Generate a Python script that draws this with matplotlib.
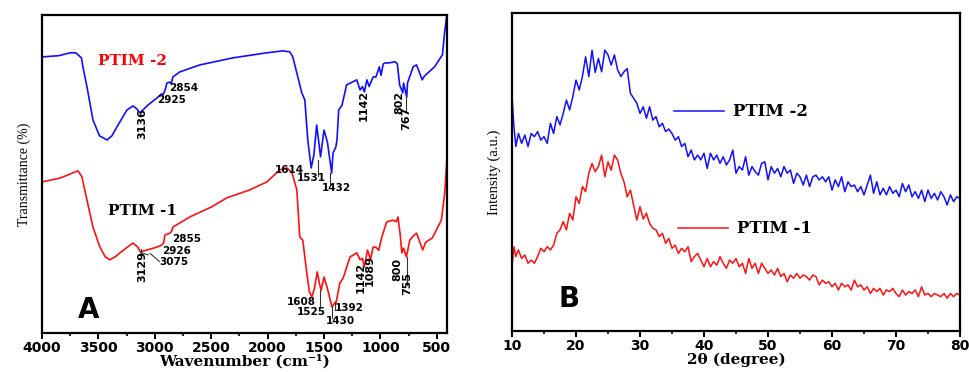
import matplotlib
matplotlib.use("Agg")
import matplotlib.pyplot as plt
from matplotlib.ticker import MultipleLocator

plt.rcParams["font.family"] = "DejaVu Sans"
plt.rcParams["font.weight"] = "bold"

# ---- FTIR data (wavenumber cm-1, transmittance a.u.) ----
ftir2_wn = [4000, 3850, 3750, 3700, 3650, 3637, 3601, 3548, 3490, 3424, 3380, 3336, 3247, 3194,
            3160, 3132, 3060, 2981, 2940, 2925, 2905, 2893, 2866, 2854, 2840, 2778, 2600, 2308,
            2007, 1865, 1803, 1777, 1732, 1697, 1670, 1644, 1614, 1590, 1565, 1531, 1500, 1470,
            1432, 1420, 1395, 1385, 1370, 1340, 1300, 1250, 1210, 1180, 1160, 1142, 1120, 1100,
            1065, 1040, 1010, 995, 975, 960, 930, 870, 850, 830, 802, 795, 767, 760, 710, 680,
            650, 630, 610, 560, 520, 450, 430, 410]
ftir2_t = [86.8, 87.2, 88.1, 88.1, 86.5, 83.7, 77.4, 67.0, 62.0, 60.7, 62.0, 64.8, 70.1, 71.4,
           70.5, 69.2, 71.7, 73.9, 75.2, 74.9, 76.8, 78.6, 78.9, 78.3, 80.5, 82.1, 84.3, 86.5,
           88.1, 88.7, 88.4, 86.8, 80.5, 75.5, 73.3, 60.7, 51.9, 56.0, 65.4, 55.4, 63.8, 60.0,
           50.3, 56.6, 58.5, 60.7, 70.1, 71.7, 78.0, 78.9, 79.6, 76.4, 77.5, 75.8, 79.6, 77.5,
           80.5, 80.5, 83.7, 81.0, 84.6, 84.9, 84.9, 85.3, 84.6, 78.0, 75.5, 78.6, 74.2, 78.6,
           83.7, 84.3, 81.5, 79.6, 80.8, 82.4, 83.7, 87.5, 94.9, 100.5]

ftir1_wn = [4000, 3840, 3750, 3681, 3646, 3601, 3548, 3486, 3440, 3398, 3350, 3309, 3194, 3150,
            3129, 3070, 2981, 2937, 2920, 2911, 2866, 2850, 2840, 2689, 2500, 2361, 2158, 2007,
            1892, 1830, 1786, 1741, 1715, 1688, 1653, 1630, 1608, 1585, 1560, 1540, 1525, 1500,
            1470, 1430, 1400, 1392, 1360, 1330, 1270, 1210, 1180, 1160, 1142, 1115, 1100, 1089,
            1065, 1040, 1015, 990, 945, 890, 860, 845, 825, 810, 795, 770, 740, 710, 680, 650,
            625, 600, 540, 460, 430, 410]
ftir1_t = [47.5, 48.7, 50.0, 51.0, 49.1, 41.8, 33.3, 27.0, 24.0, 23.0, 24.0, 25.2, 28.3, 27.0,
           25.5, 26.1, 27.0, 27.7, 28.5, 30.8, 31.4, 32.0, 33.3, 36.5, 39.6, 42.5, 45.0, 47.5,
           51.3, 51.9, 50.6, 45.0, 30.2, 29.2, 18.9, 13.0, 11.3, 14.0, 19.2, 15.5, 13.5, 17.6,
           14.0, 8.2, 9.7, 9.7, 15.7, 17.3, 23.9, 25.2, 23.0, 23.5, 20.8, 26.1, 24.5, 23.0,
           27.0, 27.0, 26.0, 29.9, 34.9, 35.5, 35.0, 36.5, 31.0, 25.2, 26.7, 23.9, 29.2, 30.5,
           31.4, 28.5, 26.1, 28.5, 29.9, 35.5, 44.0, 55.4]

# ---- XRD data (2theta, intensity a.u.) ----
xrd_2t = [10.0, 10.3, 10.6, 11.0, 11.5, 12.0, 12.5, 13.0, 13.5, 14.0, 14.5, 15.0, 15.5, 16.0,
          16.5, 17.0, 17.5, 18.0, 18.5, 19.0, 19.5, 20.0, 20.5, 21.0, 21.5, 22.0, 22.5, 23.0,
          23.5, 24.0, 24.5, 25.0, 25.5, 26.0, 26.5, 27.0, 27.5, 28.0, 28.5, 29.0, 29.5, 30.0,
          30.5, 31.0, 31.5, 32.0, 32.5, 33.0, 33.5, 34.0, 34.5, 35.0, 35.5, 36.0, 36.5, 37.0,
          37.5, 38.0, 38.5, 39.0, 39.5, 40.0, 40.5, 41.0, 41.5, 42.0, 42.5, 43.0, 43.5, 44.0,
          44.5, 45.0, 45.5, 46.0, 46.5, 47.0, 47.5, 48.0, 48.5, 49.0, 49.5, 50.0, 50.5, 51.0,
          51.5, 52.0, 52.5, 53.0, 53.5, 54.0, 54.5, 55.0, 55.5, 56.0, 56.5, 57.0, 57.5, 58.0,
          58.5, 59.0, 59.5, 60.0, 60.5, 61.0, 61.5, 62.0, 62.5, 63.0, 63.5, 64.0, 64.5, 65.0,
          65.5, 66.0, 66.5, 67.0, 67.5, 68.0, 68.5, 69.0, 69.5, 70.0, 70.5, 71.0, 71.5, 72.0,
          72.5, 73.0, 73.5, 74.0, 74.5, 75.0, 75.5, 76.0, 76.5, 77.0, 77.5, 78.0, 78.5, 79.0,
          79.5, 80.0]
xrd2 = [73.7, 64.2, 58.0, 62.1, 59.0, 61.6, 58.0, 62.1, 61.1, 62.7, 60.0, 61.1, 59.0, 65.3,
        62.1, 67.4, 64.8, 68.4, 72.6, 69.5, 73.7, 78.9, 75.8, 80.0, 86.2, 80.0, 88.3, 81.3,
        85.7, 81.5, 88.3, 86.8, 83.6, 86.8, 82.1, 80.0, 81.5, 82.5, 74.7, 73.2, 71.6, 68.4,
        70.5, 66.9, 70.5, 66.3, 67.4, 64.2, 65.3, 62.7, 63.5, 62.1, 60.0, 61.1, 58.0, 59.0,
        54.8, 56.9, 53.8, 55.3, 53.8, 55.9, 51.1, 55.9, 53.8, 55.3, 52.7, 54.8, 52.2, 53.8,
        56.9, 49.6, 51.7, 50.6, 54.8, 49.0, 51.7, 50.1, 49.0, 52.7, 53.2, 47.5, 51.7, 49.6,
        51.1, 48.5, 51.7, 49.6, 50.6, 46.4, 49.6, 48.5, 45.9, 49.0, 45.4, 48.5, 49.0, 47.5,
        48.5, 46.9, 48.5, 44.3, 47.5, 45.4, 48.5, 43.8, 46.9, 45.4, 45.9, 43.8, 45.4, 42.8,
        45.9, 49.0, 43.3, 46.9, 42.8, 44.9, 42.8, 45.4, 43.3, 44.3, 42.2, 46.4, 43.8, 45.9,
        42.2, 43.8, 41.7, 44.3, 40.7, 44.3, 41.7, 43.3, 41.2, 43.8, 42.2, 39.6, 42.8, 40.7,
        42.2, 41.7]
xrd1 = [20.2, 26.5, 23.4, 25.5, 22.8, 23.9, 21.3, 22.3, 21.3, 23.4, 26.0, 24.9, 26.5, 25.5,
        27.0, 30.7, 31.8, 34.4, 31.8, 37.0, 34.9, 42.2, 40.1, 45.4, 43.8, 49.6, 52.7, 50.1,
        51.7, 55.3, 48.5, 53.2, 50.6, 55.3, 53.8, 49.6, 46.9, 42.2, 44.3, 39.6, 34.9, 39.1,
        35.2, 37.0, 33.8, 32.3, 31.8, 29.7, 30.7, 27.6, 29.1, 26.0, 27.0, 24.4, 26.0, 24.9,
        26.5, 21.8, 23.4, 24.4, 22.3, 20.2, 22.8, 20.2, 21.8, 20.7, 23.4, 21.3, 19.7, 22.3,
        21.3, 22.8, 20.2, 21.3, 18.1, 22.8, 19.7, 21.3, 18.1, 21.3, 19.7, 18.1, 19.2, 17.6,
        19.7, 17.1, 18.1, 15.5, 17.6, 16.6, 18.1, 16.6, 17.6, 17.1, 16.0, 17.6, 17.1, 14.5,
        16.0, 15.0, 15.5, 13.9, 15.0, 12.9, 15.0, 13.9, 14.5, 12.9, 16.0, 13.9, 14.5, 12.9,
        13.9, 11.8, 13.4, 12.4, 13.4, 11.3, 12.9, 12.4, 13.4, 11.8, 10.8, 12.9, 11.3, 12.4,
        11.8, 12.9, 10.8, 13.9, 11.3, 11.8, 10.8, 11.8, 11.3, 10.8, 11.8, 10.3, 11.8, 10.8,
        11.8, 11.3]

# peak labels: (text, wavenumber, T, rotated)
peaks2 = [("2854", 2875, 77.1, False), ("2925", 2981, 73.3, False), ("3136", 3114, 66.0, True),
          ("1614", 1936, 51.3, False), ("1531", 1741, 48.7, False), ("1432", 1520, 45.6, False),
          ("1142", 1148, 71.7, True), ("802", 829, 72.6, True), ("767", 767, 67.6, True)]
peaks1 = [("2855", 2849, 29.6, False), ("2926", 2937, 25.8, False), ("3075", 2964, 22.3, False),
          ("3129", 3114, 20.8, True), ("1608", 1830, 9.7, False), ("1525", 1741, 6.6, False),
          ("1392", 1405, 7.9, False), ("1430", 1485, 3.8, False), ("1142", 1174, 17.6, True),
          ("1089", 1095, 19.8, True), ("800", 847, 20.1, True), ("755", 758, 15.7, True)]

fig = plt.figure(figsize=(9.69, 3.72), dpi=100)
axA = fig.add_axes([0.0433, 0.1048, 0.418, 0.855])
axB = fig.add_axes([0.5284, 0.1102, 0.4623, 0.855])

serif_b = dict(family="DejaVu Serif", weight="bold")
narrow = dict(family=["Liberation Sans Narrow", "DejaVu Sans"], weight="bold")

for ax in (axA, axB):
    for sp in ax.spines.values():
        sp.set_linewidth(1.6)
    ax.set_yticks([])
    ax.tick_params(axis="x", which="major", direction="out", length=4, width=1.4,
                   labelsize=10, pad=1.5)
    ax.tick_params(axis="x", which="minor", direction="out", length=2.5, width=1.2)

# ---- panel A ----
axA.plot(ftir2_wn, ftir2_t, color="#1010ff", lw=1.2)
axA.plot(ftir1_wn, ftir1_t, color="#ff1010", lw=1.2)
axA.set_xlim(4000, 410)
axA.set_ylim(0, 100)
axA.xaxis.set_major_locator(MultipleLocator(500))
axA.xaxis.set_minor_locator(MultipleLocator(250))
axA.set_xlabel("Wavenumber (cm⁻¹)", fontsize=11, labelpad=0, **serif_b)
axA.set_ylabel("Transmittance (%)", family="Liberation Serif", weight="normal",
               fontsize=10, labelpad=8)

axA.text(3194, 85.5, "PTIM -2", color="red", fontsize=11, ha="center", va="center", **serif_b)
axA.text(3105, 38.4, "PTIM -1", color="black", fontsize=11, ha="center", va="center", **serif_b)
for txt, wn, t, rot in peaks2 + peaks1:
    if rot:
        axA.text(wn, t, txt, rotation=90, ha="center", va="center", fontsize=8, **narrow)
    else:
        axA.text(wn, t, txt, ha="left", va="center", fontsize=7.5, weight="bold")

# leader lines
lc = dict(color="0.2", lw=0.8)
axA.plot([1555, 1555], [54.4, 49.4], **lc)
axA.plot([1449, 1449], [50.3, 46.9], **lc)
axA.plot([776, 776], [74.2, 69.5], **lc)
axA.plot([3123, 3123], [26.5, 24.0], **lc)
axA.plot([3123, 3060], [25.2, 24.6], **lc)
axA.plot([3040, 2960], [25.0, 22.5], **lc)
axA.plot([1538, 1538], [13.5, 7.9], **lc)
axA.plot([1431, 1431], [8.5, 4.7], **lc)
axA.plot([1405, 1405], [9.5, 7.2], **lc)
axA.plot([767, 767], [23.9, 15.1], **lc)

axA.text(3681, 4.7, "A", fontsize=20, weight="bold", ha="left", va="baseline")

# ---- panel B ----
l2, = axB.plot(xrd_2t, xrd2, color="#1010ff", lw=1.1)
l1, = axB.plot(xrd_2t, xrd1, color="#ff1010", lw=1.1)
axB.set_xlim(10, 80)
axB.set_ylim(0, 100)
axB.xaxis.set_major_locator(MultipleLocator(10))
axB.xaxis.set_minor_locator(MultipleLocator(5))
axB.set_xlabel("2θ (degree)", fontsize=11, labelpad=0, **serif_b)
axB.set_ylabel("Intensity (a.u.)", family="Liberation Serif", weight="normal",
               fontsize=10.5, labelpad=8)

leg_kw = dict(frameon=False, loc="center left", borderpad=0, borderaxespad=0,
              handlelength=3.0, handletextpad=0.5, prop=dict(family="DejaVu Serif",
                                                               weight="bold", size=12))
leg2 = axB.legend([l2], ["PTIM -2"], bbox_to_anchor=(0.362, 0.689), **leg_kw)
axB.add_artist(leg2)
axB.legend([l1], ["PTIM -1"], bbox_to_anchor=(0.371, 0.321), **leg_kw)

axB.text(17.2, 7.5, "B", fontsize=20, weight="bold", ha="left", va="baseline")

fig.savefig("out.png", dpi=100)
